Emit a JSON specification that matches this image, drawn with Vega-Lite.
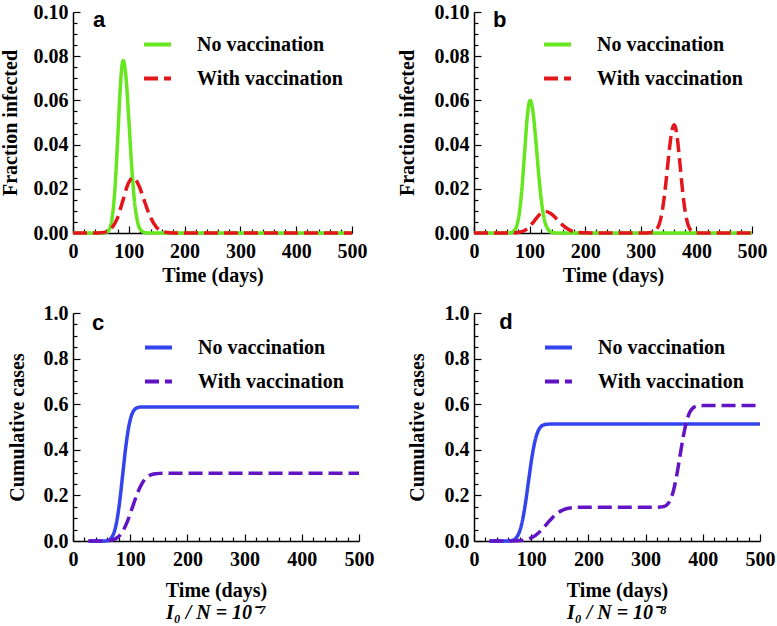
{
  "$schema": "https://vega.github.io/schema/vega-lite/v6.json",
  "background": "white",
  "padding": {"left": 0, "top": 2, "right": 5, "bottom": 5},
  "bounds": "flush",
  "columns": 2,
  "spacing": {"row": 80, "column": 115},
  "config": {
    "view": {"stroke": null},
    "font": "Liberation Serif",
    "axis": {"labelFont": "Liberation Serif", "labelFontWeight": "bold", "labelFontSize": 20, "labelColor": "black", "titleFont": "Liberation Serif", "titleFontWeight": "bold", "titleFontSize": 20, "titleColor": "black", "domainColor": "black", "domainWidth": 1.5, "tickColor": "black", "tickWidth": 1.2, "grid": false, "labelOverlap": false, "labelFlush": false, "zindex": 0, "tickSize": -7},
    "axisX": {"labelPadding": 15, "titlePadding": 4},
    "axisY": {"labelPadding": 12, "titlePadding": 13},
    "legend": {"labelFont": "Liberation Serif", "labelFontWeight": "bold", "labelFontSize": 20, "labelColor": "black", "symbolType": "stroke", "symbolSize": 729, "symbolStrokeWidth": 4, "labelOffset": 24, "rowPadding": 8, "padding": 0},
    "title": {"font": "Liberation Serif", "fontStyle": "italic", "fontWeight": "bold", "fontSize": 20, "color": "black"}
  },
  "datasets": {
    "a": [
      {"t": 0, "v": 0, "s": "No vaccination"}, {"t": 50, "v": 0, "s": "No vaccination"}, {"t": 60, "v": 0.0003, "s": "No vaccination"}, {"t": 65, "v": 0.0016, "s": "No vaccination"}, {"t": 70, "v": 0.0066, "s": "No vaccination"}, {"t": 75, "v": 0.0195, "s": "No vaccination"}, {"t": 80, "v": 0.0421, "s": "No vaccination"}, {"t": 85, "v": 0.0669, "s": "No vaccination"}, {"t": 88, "v": 0.0761, "s": "No vaccination"}, {"t": 90, "v": 0.078, "s": "No vaccination"}, {"t": 92, "v": 0.0767, "s": "No vaccination"}, {"t": 95, "v": 0.0704, "s": "No vaccination"}, {"t": 100, "v": 0.0516, "s": "No vaccination"}, {"t": 105, "v": 0.0308, "s": "No vaccination"}, {"t": 110, "v": 0.0149, "s": "No vaccination"}, {"t": 115, "v": 0.0059, "s": "No vaccination"}, {"t": 120, "v": 0.0019, "s": "No vaccination"}, {"t": 130, "v": 0.0001, "s": "No vaccination"}, {"t": 140, "v": 0, "s": "No vaccination"}, {"t": 500, "v": 0, "s": "No vaccination"},
      {"t": 0, "v": 0, "s": "With vaccination"}, {"t": 40, "v": 0, "s": "With vaccination"}, {"t": 49, "v": 0.0001, "s": "With vaccination"}, {"t": 59, "v": 0.0005, "s": "With vaccination"}, {"t": 69, "v": 0.0021, "s": "With vaccination"}, {"t": 79, "v": 0.0064, "s": "With vaccination"}, {"t": 89, "v": 0.0143, "s": "With vaccination"}, {"t": 99, "v": 0.0224, "s": "With vaccination"}, {"t": 107, "v": 0.025, "s": "With vaccination"}, {"t": 114, "v": 0.0235, "s": "With vaccination"}, {"t": 119, "v": 0.0209, "s": "With vaccination"}, {"t": 129, "v": 0.0137, "s": "With vaccination"}, {"t": 139, "v": 0.007, "s": "With vaccination"}, {"t": 149, "v": 0.0028, "s": "With vaccination"}, {"t": 159, "v": 0.0009, "s": "With vaccination"}, {"t": 169, "v": 0.0002, "s": "With vaccination"}, {"t": 179, "v": 0, "s": "With vaccination"}, {"t": 500, "v": 0, "s": "With vaccination"}
    ],
    "b": [
      {"t": 0, "v": 0, "s": "No vaccination"}, {"t": 60, "v": 0, "s": "No vaccination"}, {"t": 66, "v": 0.0001, "s": "No vaccination"}, {"t": 71, "v": 0.0007, "s": "No vaccination"}, {"t": 76, "v": 0.0026, "s": "No vaccination"}, {"t": 81, "v": 0.0081, "s": "No vaccination"}, {"t": 86, "v": 0.0195, "s": "No vaccination"}, {"t": 91, "v": 0.0364, "s": "No vaccination"}, {"t": 96, "v": 0.053, "s": "No vaccination"}, {"t": 99, "v": 0.0588, "s": "No vaccination"}, {"t": 101, "v": 0.06, "s": "No vaccination"}, {"t": 103, "v": 0.0592, "s": "No vaccination"}, {"t": 106, "v": 0.055, "s": "No vaccination"}, {"t": 111, "v": 0.0424, "s": "No vaccination"}, {"t": 116, "v": 0.0275, "s": "No vaccination"}, {"t": 121, "v": 0.015, "s": "No vaccination"}, {"t": 126, "v": 0.0068, "s": "No vaccination"}, {"t": 131, "v": 0.0026, "s": "No vaccination"}, {"t": 141, "v": 0.0002, "s": "No vaccination"}, {"t": 151, "v": 0, "s": "No vaccination"}, {"t": 500, "v": 0, "s": "No vaccination"},
      {"t": 0, "v": 0, "s": "With vaccination"}, {"t": 68, "v": 0, "s": "With vaccination"}, {"t": 78, "v": 0.0002, "s": "With vaccination"}, {"t": 88, "v": 0.0008, "s": "With vaccination"}, {"t": 98, "v": 0.0024, "s": "With vaccination"}, {"t": 108, "v": 0.0053, "s": "With vaccination"}, {"t": 118, "v": 0.0084, "s": "With vaccination"}, {"t": 128, "v": 0.0098, "s": "With vaccination"}, {"t": 138, "v": 0.0088, "s": "With vaccination"}, {"t": 148, "v": 0.0065, "s": "With vaccination"}, {"t": 158, "v": 0.0039, "s": "With vaccination"}, {"t": 168, "v": 0.0019, "s": "With vaccination"}, {"t": 178, "v": 0.0007, "s": "With vaccination"}, {"t": 188, "v": 0.0002, "s": "With vaccination"}, {"t": 198, "v": 0.0001, "s": "With vaccination"}, {"t": 210, "v": 0, "s": "With vaccination"}, {"t": 310, "v": 0, "s": "With vaccination"}, {"t": 320, "v": 0.0002, "s": "With vaccination"}, {"t": 330, "v": 0.0022, "s": "With vaccination"}, {"t": 335, "v": 0.0056, "s": "With vaccination"}, {"t": 340, "v": 0.0122, "s": "With vaccination"}, {"t": 345, "v": 0.0224, "s": "With vaccination"}, {"t": 350, "v": 0.0346, "s": "With vaccination"}, {"t": 355, "v": 0.0449, "s": "With vaccination"}, {"t": 358, "v": 0.0483, "s": "With vaccination"}, {"t": 360, "v": 0.049, "s": "With vaccination"}, {"t": 362, "v": 0.0482, "s": "With vaccination"}, {"t": 365, "v": 0.0442, "s": "With vaccination"}, {"t": 370, "v": 0.0324, "s": "With vaccination"}, {"t": 375, "v": 0.0194, "s": "With vaccination"}, {"t": 380, "v": 0.0094, "s": "With vaccination"}, {"t": 385, "v": 0.0037, "s": "With vaccination"}, {"t": 390, "v": 0.0012, "s": "With vaccination"}, {"t": 400, "v": 0.0001, "s": "With vaccination"}, {"t": 410, "v": 0, "s": "With vaccination"}, {"t": 500, "v": 0, "s": "With vaccination"}
    ],
    "c": [
      {"t": 27, "v": 0, "s": "No vaccination"}, {"t": 55, "v": 0, "s": "No vaccination"}, {"t": 62, "v": 0.0036, "s": "No vaccination"}, {"t": 67, "v": 0.0134, "s": "No vaccination"}, {"t": 72, "v": 0.0393, "s": "No vaccination"}, {"t": 77, "v": 0.0933, "s": "No vaccination"}, {"t": 82, "v": 0.1814, "s": "No vaccination"}, {"t": 87, "v": 0.294, "s": "No vaccination"}, {"t": 92, "v": 0.4066, "s": "No vaccination"}, {"t": 97, "v": 0.4947, "s": "No vaccination"}, {"t": 102, "v": 0.5487, "s": "No vaccination"}, {"t": 107, "v": 0.5746, "s": "No vaccination"}, {"t": 112, "v": 0.5843, "s": "No vaccination"}, {"t": 117, "v": 0.5872, "s": "No vaccination"}, {"t": 127, "v": 0.588, "s": "No vaccination"}, {"t": 500, "v": 0.588, "s": "No vaccination"},
      {"t": 27, "v": 0, "s": "With vaccination"}, {"t": 56, "v": 0.0004, "s": "With vaccination"}, {"t": 64, "v": 0.0018, "s": "With vaccination"}, {"t": 72, "v": 0.0068, "s": "With vaccination"}, {"t": 80, "v": 0.0198, "s": "With vaccination"}, {"t": 88, "v": 0.0471, "s": "With vaccination"}, {"t": 96, "v": 0.0916, "s": "With vaccination"}, {"t": 104, "v": 0.1485, "s": "With vaccination"}, {"t": 112, "v": 0.2054, "s": "With vaccination"}, {"t": 120, "v": 0.2499, "s": "With vaccination"}, {"t": 128, "v": 0.2772, "s": "With vaccination"}, {"t": 136, "v": 0.2902, "s": "With vaccination"}, {"t": 144, "v": 0.2952, "s": "With vaccination"}, {"t": 152, "v": 0.2966, "s": "With vaccination"}, {"t": 170, "v": 0.297, "s": "With vaccination"}, {"t": 500, "v": 0.297, "s": "With vaccination"}
    ],
    "d": [
      {"t": 27, "v": 0, "s": "No vaccination"}, {"t": 56, "v": 0.0001, "s": "No vaccination"}, {"t": 62, "v": 0.0007, "s": "No vaccination"}, {"t": 67.5, "v": 0.0032, "s": "No vaccination"}, {"t": 73, "v": 0.0117, "s": "No vaccination"}, {"t": 78.5, "v": 0.0343, "s": "No vaccination"}, {"t": 84, "v": 0.0814, "s": "No vaccination"}, {"t": 89.5, "v": 0.1583, "s": "No vaccination"}, {"t": 95, "v": 0.2565, "s": "No vaccination"}, {"t": 100.5, "v": 0.3547, "s": "No vaccination"}, {"t": 106, "v": 0.4316, "s": "No vaccination"}, {"t": 111.5, "v": 0.4787, "s": "No vaccination"}, {"t": 117, "v": 0.5013, "s": "No vaccination"}, {"t": 122.5, "v": 0.5098, "s": "No vaccination"}, {"t": 128, "v": 0.5123, "s": "No vaccination"}, {"t": 140, "v": 0.513, "s": "No vaccination"}, {"t": 500, "v": 0.513, "s": "No vaccination"},
      {"t": 27, "v": 0, "s": "With vaccination"}, {"t": 67, "v": 0.0002, "s": "With vaccination"}, {"t": 77, "v": 0.0009, "s": "With vaccination"}, {"t": 87, "v": 0.0034, "s": "With vaccination"}, {"t": 97, "v": 0.0099, "s": "With vaccination"}, {"t": 107, "v": 0.0235, "s": "With vaccination"}, {"t": 117, "v": 0.0457, "s": "With vaccination"}, {"t": 127, "v": 0.074, "s": "With vaccination"}, {"t": 137, "v": 0.1023, "s": "With vaccination"}, {"t": 147, "v": 0.1245, "s": "With vaccination"}, {"t": 157, "v": 0.1381, "s": "With vaccination"}, {"t": 167, "v": 0.1446, "s": "With vaccination"}, {"t": 177, "v": 0.1471, "s": "With vaccination"}, {"t": 187, "v": 0.1478, "s": "With vaccination"}, {"t": 200, "v": 0.148, "s": "With vaccination"}, {"t": 300, "v": 0.148, "s": "With vaccination"}, {"t": 320, "v": 0.1481, "s": "With vaccination"}, {"t": 325.5, "v": 0.1486, "s": "With vaccination"}, {"t": 331, "v": 0.1508, "s": "With vaccination"}, {"t": 337, "v": 0.1582, "s": "With vaccination"}, {"t": 342.75, "v": 0.1778, "s": "With vaccination"}, {"t": 348.5, "v": 0.2188, "s": "With vaccination"}, {"t": 354.25, "v": 0.2856, "s": "With vaccination"}, {"t": 360, "v": 0.371, "s": "With vaccination"}, {"t": 365.75, "v": 0.4564, "s": "With vaccination"}, {"t": 371.5, "v": 0.5232, "s": "With vaccination"}, {"t": 377.25, "v": 0.5642, "s": "With vaccination"}, {"t": 383, "v": 0.5838, "s": "With vaccination"}, {"t": 388.75, "v": 0.5912, "s": "With vaccination"}, {"t": 394.5, "v": 0.5932, "s": "With vaccination"}, {"t": 400, "v": 0.5938, "s": "With vaccination"}, {"t": 420, "v": 0.594, "s": "With vaccination"}, {"t": 500, "v": 0.594, "s": "With vaccination"}
    ],
    "la": [{"label": "a"}], "lb": [{"label": "b"}], "lc": [{"label": "c"}], "ld": [{"label": "d"}]
  },
  "concat": [
    {
      "width": 279, "height": 221,
      "resolve": {"axis": {"x": "independent", "y": "independent"}},
      "layer": [
        {
          "data": {"name": "a"},
          "mark": {"type": "line", "strokeWidth": 3.5, "interpolate": "monotone"},
          "encoding": {
            "x": {"field": "t", "type": "quantitative", "scale": {"domain": [0, 500]}, "axis": {"orient": "bottom", "title": "Time (days)", "values": [0,100,200,300,400,500]}},
            "y": {"field": "v", "type": "quantitative", "scale": {"domain": [0, 0.1]}, "axis": {"orient": "left", "title": "Fraction infected", "format": ".2f", "values": [0,0.02,0.04,0.06,0.08,0.1]}},
            "color": {"field": "s", "type": "nominal", "scale": {"domain": ["No vaccination", "With vaccination"], "range": ["#66e61e", "#e3161c"]}, "legend": {"title": null, "orient": "none", "legendX": 69, "legendY": 17}},
            "strokeDash": {"field": "s", "type": "nominal", "scale": {"domain": ["No vaccination", "With vaccination"], "range": [[1, 0], [14, 6]]}, "legend": {"title": null, "orient": "none", "legendX": 69, "legendY": 17}}
          }
        },
        {
          "data": {"name": "la"},
          "mark": {"type": "text", "font": "Liberation Sans", "fontWeight": "bold", "fontSize": 22, "align": "left", "baseline": "middle"},
          "encoding": {
            "x": {"datum": 36, "type": "quantitative", "axis": {"orient": "bottom", "title": null, "labels": false, "domain": false, "tickSize": -4, "values": [20,40,60,80,120,140,160,180,220,240,260,280,320,340,360,380,420,440,460,480]}},
            "y": {"datum": 0.0964, "type": "quantitative", "axis": {"orient": "left", "title": null, "labels": false, "domain": false, "tickSize": -4, "values": [0.005,0.01,0.015,0.025,0.03,0.035,0.045,0.05,0.055,0.065,0.07,0.075,0.085,0.09,0.095]}},
            "text": {"field": "label"}
          }
        }
      ]
    },
    {
      "width": 278, "height": 221,
      "resolve": {"axis": {"x": "independent", "y": "independent"}},
      "layer": [
        {
          "data": {"name": "b"},
          "mark": {"type": "line", "strokeWidth": 3.5, "interpolate": "monotone"},
          "encoding": {
            "x": {"field": "t", "type": "quantitative", "scale": {"domain": [0, 500]}, "axis": {"orient": "bottom", "title": "Time (days)", "values": [0,100,200,300,400,500]}},
            "y": {"field": "v", "type": "quantitative", "scale": {"domain": [0, 0.1]}, "axis": {"orient": "left", "title": "Fraction infected", "titlePadding": 17, "format": ".2f", "values": [0,0.02,0.04,0.06,0.08,0.1]}},
            "color": {"field": "s", "type": "nominal", "scale": {"domain": ["No vaccination", "With vaccination"], "range": ["#66e61e", "#e3161c"]}, "legend": {"title": null, "orient": "none", "legendX": 68, "legendY": 17}},
            "strokeDash": {"field": "s", "type": "nominal", "scale": {"domain": ["No vaccination", "With vaccination"], "range": [[1, 0], [14, 6]]}, "legend": {"title": null, "orient": "none", "legendX": 68, "legendY": 17}}
          }
        },
        {
          "data": {"name": "lb"},
          "mark": {"type": "text", "font": "Liberation Sans", "fontWeight": "bold", "fontSize": 22, "align": "left", "baseline": "middle"},
          "encoding": {
            "x": {"datum": 34, "type": "quantitative", "axis": {"orient": "bottom", "title": null, "labels": false, "domain": false, "tickSize": -4, "values": [20,40,60,80,120,140,160,180,220,240,260,280,320,340,360,380,420,440,460,480]}},
            "y": {"datum": 0.0964, "type": "quantitative", "axis": {"orient": "left", "title": null, "labels": false, "domain": false, "tickSize": -4, "values": [0.005,0.01,0.015,0.025,0.03,0.035,0.045,0.05,0.055,0.065,0.07,0.075,0.085,0.09,0.095]}},
            "text": {"field": "label"}
          }
        }
      ]
    },
    {
      "width": 286, "height": 228,
      "title": {"text": "I₀ / N = 10⁻⁷", "orient": "bottom", "offset": 3},
      "resolve": {"axis": {"x": "independent", "y": "independent"}},
      "layer": [
        {
          "data": {"name": "c"},
          "mark": {"type": "line", "strokeWidth": 3.5, "interpolate": "monotone"},
          "encoding": {
            "x": {"field": "t", "type": "quantitative", "scale": {"domain": [0, 500]}, "axis": {"orient": "bottom", "title": "Time (days)", "titlePadding": 11, "values": [0,100,200,300,400,500]}},
            "y": {"field": "v", "type": "quantitative", "scale": {"domain": [0, 1]}, "axis": {"orient": "left", "title": "Cumulative cases", "titlePadding": 16, "format": ".1f", "values": [0,0.2,0.4,0.6,0.8,1]}},
            "color": {"field": "s", "type": "nominal", "scale": {"domain": ["No vaccination", "With vaccination"], "range": ["#3344ee", "#6214c4"]}, "legend": {"title": null, "orient": "none", "legendX": 70, "legendY": 19}},
            "strokeDash": {"field": "s", "type": "nominal", "scale": {"domain": ["No vaccination", "With vaccination"], "range": [[1, 0], [14, 6]]}, "legend": {"title": null, "orient": "none", "legendX": 70, "legendY": 19}}
          }
        },
        {
          "data": {"name": "lc"},
          "mark": {"type": "text", "font": "Liberation Sans", "fontWeight": "bold", "fontSize": 22, "align": "left", "baseline": "middle"},
          "encoding": {
            "x": {"datum": 33, "type": "quantitative", "axis": {"orient": "bottom", "title": null, "labels": false, "domain": false, "tickSize": -4, "values": [20,40,60,80,120,140,160,180,220,240,260,280,320,340,360,380,420,440,460,480]}},
            "y": {"datum": 0.956, "type": "quantitative", "axis": {"orient": "left", "title": null, "labels": false, "domain": false, "tickSize": -4, "values": [0.05,0.1,0.15,0.25,0.3,0.35,0.45,0.5,0.55,0.65,0.7,0.75,0.85,0.9,0.95]}},
            "text": {"field": "label"}
          }
        }
      ]
    },
    {
      "width": 286, "height": 228,
      "title": {"text": "I₀ / N = 10⁻⁸", "orient": "bottom", "offset": 3},
      "resolve": {"axis": {"x": "independent", "y": "independent"}},
      "layer": [
        {
          "data": {"name": "d"},
          "mark": {"type": "line", "strokeWidth": 3.5, "interpolate": "monotone"},
          "encoding": {
            "x": {"field": "t", "type": "quantitative", "scale": {"domain": [0, 500]}, "axis": {"orient": "bottom", "title": "Time (days)", "titlePadding": 11, "values": [0,100,200,300,400,500]}},
            "y": {"field": "v", "type": "quantitative", "scale": {"domain": [0, 1]}, "axis": {"orient": "left", "title": "Cumulative cases", "titlePadding": 17, "format": ".1f", "values": [0,0.2,0.4,0.6,0.8,1]}},
            "color": {"field": "s", "type": "nominal", "scale": {"domain": ["No vaccination", "With vaccination"], "range": ["#3344ee", "#6214c4"]}, "legend": {"title": null, "orient": "none", "legendX": 69, "legendY": 19}},
            "strokeDash": {"field": "s", "type": "nominal", "scale": {"domain": ["No vaccination", "With vaccination"], "range": [[1, 0], [14, 6]]}, "legend": {"title": null, "orient": "none", "legendX": 69, "legendY": 19}}
          }
        },
        {
          "data": {"name": "ld"},
          "mark": {"type": "text", "font": "Liberation Sans", "fontWeight": "bold", "fontSize": 22, "align": "left", "baseline": "middle"},
          "encoding": {
            "x": {"datum": 44, "type": "quantitative", "axis": {"orient": "bottom", "title": null, "labels": false, "domain": false, "tickSize": -4, "values": [20,40,60,80,120,140,160,180,220,240,260,280,320,340,360,380,420,440,460,480]}},
            "y": {"datum": 0.96, "type": "quantitative", "axis": {"orient": "left", "title": null, "labels": false, "domain": false, "tickSize": -4, "values": [0.05,0.1,0.15,0.25,0.3,0.35,0.45,0.5,0.55,0.65,0.7,0.75,0.85,0.9,0.95]}},
            "text": {"field": "label"}
          }
        }
      ]
    }
  ],
  "resolve": {"scale": {"color": "independent", "strokeDash": "independent"}, "legend": {"color": "independent", "strokeDash": "independent"}}
}
